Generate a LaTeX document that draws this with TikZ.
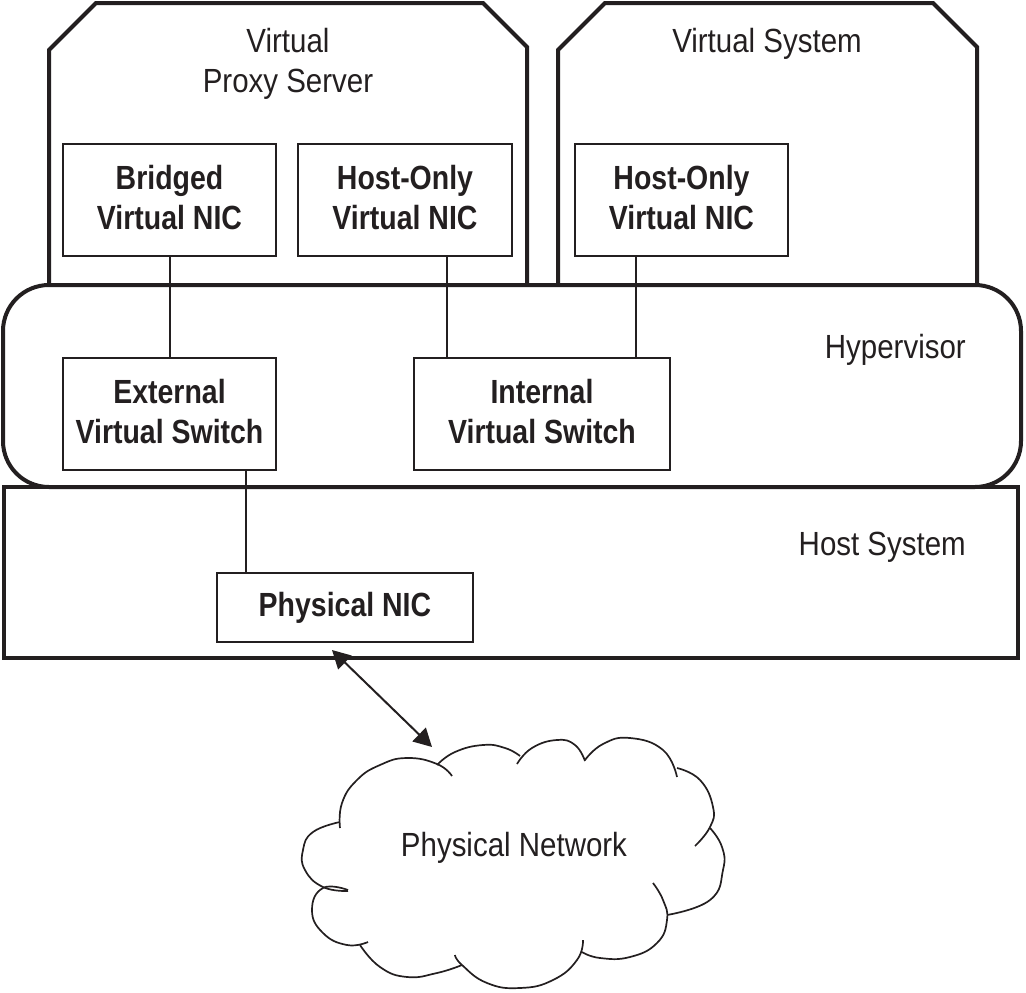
\documentclass[tikz,border=0pt]{standalone}
\usepackage{fontspec}
\usetikzlibrary{arrows.meta}
\newfontfamily\lblfont[FakeStretch=0.88]{Liberation Sans}
\newfontfamily\boxfont[FakeStretch=0.85]{Liberation Sans}
\definecolor{ink}{HTML}{231F20}
\begin{document}
\begin{tikzpicture}[x=1pt,y=-1pt,
  outer/.style={draw=ink,line width=4pt,line join=miter},
  nicbox/.style={draw=ink,line width=2pt,inner sep=0pt,align=center,text=ink,
    font=\boxfont\bfseries\fontsize{33.5}{40}\selectfont},
  lbl/.style={text=ink,inner sep=0pt,font=\lblfont\fontsize{33.5}{40}\selectfont},
  wire/.style={draw=ink,line width=2pt},
  cloudline/.style={draw=ink,line width=1.7pt,smooth,tension=0.8},
  dblarrow/.style={draw=ink,line width=2pt,{Triangle[length=18pt,width=19pt]}-{Triangle[length=18pt,width=19pt]}}]
\useasboundingbox (0,0) rectangle (1026,993);

% outer containers
\draw[outer] (49,285) -- (49,50) -- (96,3) -- (483,3) -- (527,47) -- (527,285);
\draw[outer] (558,285) -- (558,50) -- (605,3) -- (933,3) -- (977,47) -- (977,285);
\draw[outer,rounded corners=46pt] (3,285) rectangle (1021,487);
\draw[outer] (4,487) rectangle (1018,658);

% container labels
\node[lbl,anchor=base] (vps1) at (288,52) {Virtual};
\node[lbl,anchor=base] (vps2) at (288,92) {Proxy Server};
\node[lbl,anchor=base] (vsys) at (767,52) {Virtual System};
\node[lbl,anchor=base east] (hyp) at (966,358) {Hypervisor};
\node[lbl,anchor=base east] (host) at (966,555) {Host System};

% boxes
\node[nicbox,minimum width=213pt,minimum height=112pt,text depth=5pt] (bridged) at (169.5,200) {Bridged\\Virtual NIC};
\node[nicbox,minimum width=214pt,minimum height=112pt,text depth=5pt] (hostA) at (405,200) {Host-Only\\Virtual NIC};
\node[nicbox,minimum width=213pt,minimum height=112pt,text depth=5pt] (hostB) at (681.5,200) {Host-Only\\Virtual NIC};
\node[nicbox,minimum width=213pt,minimum height=112pt,text depth=5pt] (ext) at (169.5,414) {External\\Virtual Switch};
\node[nicbox,minimum width=256pt,minimum height=112pt,text depth=5pt] (int) at (542,414) {Internal\\Virtual Switch};
\node[nicbox,minimum width=256pt,minimum height=69pt] (phys) at (345,607.5) {Physical NIC};

% connector x positions
\coordinate (cx1) at (447,0);
\coordinate (cx2) at (636,0);
\coordinate (cx3) at (246,0);
\draw[wire] (bridged.south) -- (ext.north);
\draw[wire] (hostA.south -| cx1) -- (int.north -| cx1);
\draw[wire] (hostB.south -| cx2) -- (int.north -| cx2);
\draw[wire] (ext.south -| cx3) -- (phys.north -| cx3);

% cloud
\draw[cloudline] plot coordinates {(340,828) (342,803) (357,780) (380,765) (407,758) (437,764) (452,776)};
\draw[cloudline] plot coordinates {(437,765) (455,752) (483,745) (505,748) (520,756)};
\draw[cloudline] plot coordinates {(517,764) (532,748) (557,740) (575,745) (585,761)};
\draw[cloudline] plot coordinates {(585,760) (603,744) (630,738) (663,750) (677,777)};
\draw[cloudline] plot coordinates {(677,768) (700,780) (713,807) (710,827) (695,846)};
\draw[cloudline] plot coordinates {(710,828) (722,847) (723,870) (710,900) (667,915)};
\draw[cloudline] plot coordinates {(653,883) (663,900) (667,920) (657,943) (630,957) (600,958) (582,952)};
\draw[cloudline] plot coordinates {(583,940) (577,960) (553,980) (520,988) (487,983) (462,965) (455,955)};
\draw[cloudline] plot coordinates {(462,965) (437,973) (407,977) (380,967) (360,945)};
\draw[cloudline] plot coordinates {(368,942) (347,945) (323,933) (312,910) (323,888) (348,890)};
\draw[cloudline] plot coordinates {(348,891) (323,887) (305,870) (303,850) (313,832) (340,822)};
\node[lbl,anchor=base] (net) at (514,856) {Physical Network};

% double arrow
\coordinate (a1) at (332,650);
\coordinate (a2) at (432,747);
\draw[dblarrow] (a1) -- (a2);
\end{tikzpicture}
\end{document}
